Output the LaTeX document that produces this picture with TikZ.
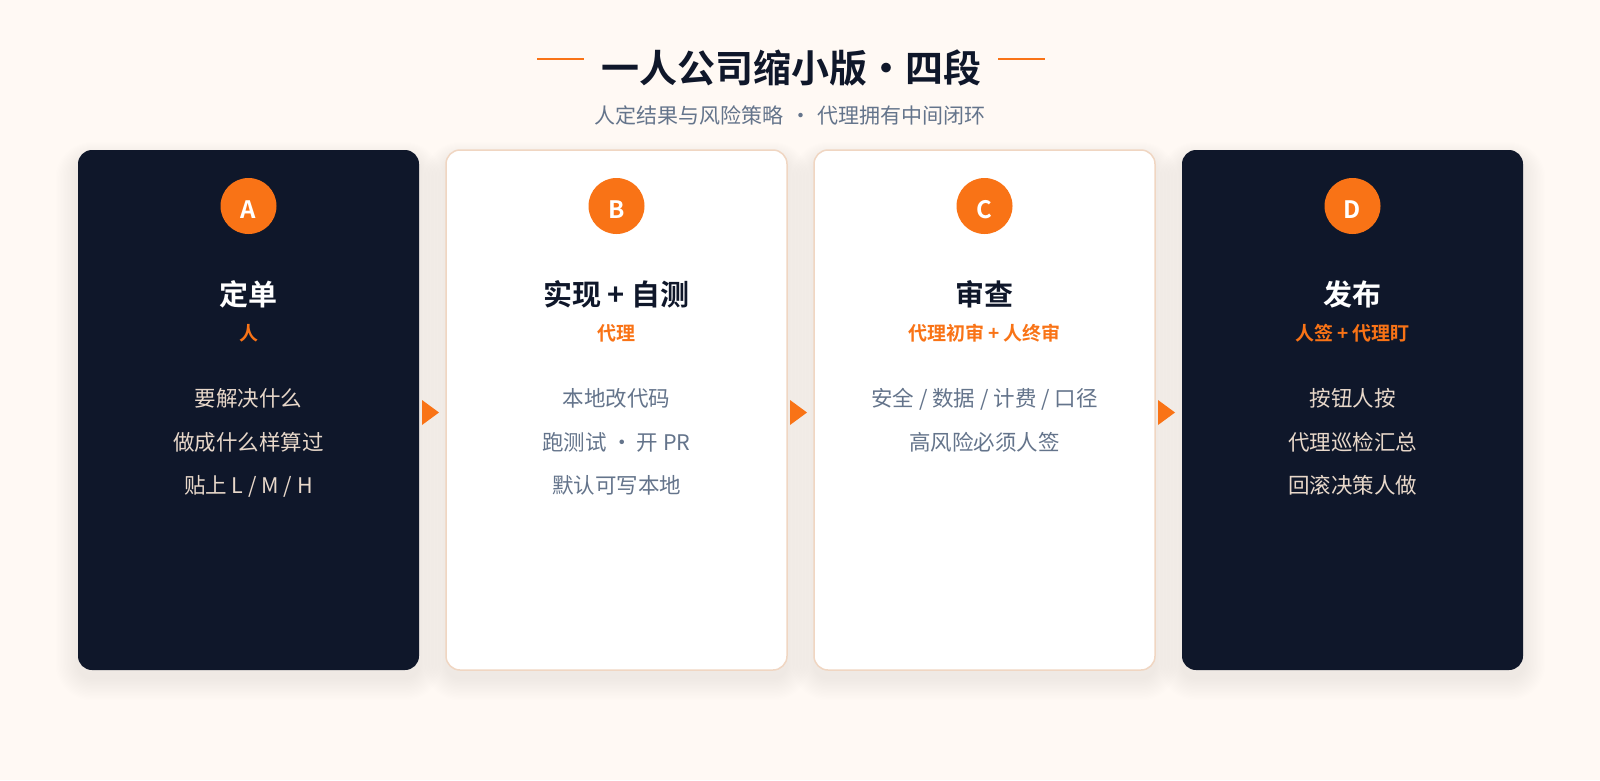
\documentclass[tikz,border=0pt]{standalone}
\usepackage{fontspec}
\setmainfont{Noto Sans CJK SC}
\newfontfamily\cjkbold{Noto Sans CJK SC Bold}
\definecolor{bg}{HTML}{FFF9F4}
\definecolor{navy}{HTML}{0F172A}
\definecolor{orng}{HTML}{F97316}
\definecolor{slate}{HTML}{64748B}
\definecolor{beige}{HTML}{E8D8CA}
\definecolor{bord}{HTML}{F0D6C2}
\definecolor{shad}{HTML}{5A3A20}
\tikzset{
  x=1pt,y=-1pt,
  darkcard/.style={fill=navy,draw=none,rounded corners=14pt},
  lightcard/.style={fill=white,draw=bord,line width=1.5pt,rounded corners=14pt},
  badge/.style={circle,fill=orng,minimum size=56pt,inner sep=0pt},
  badgetxt/.style={anchor=base,text=white,font=\cjkbold\fontsize{24pt}{24pt}\selectfont,inner sep=0pt},
  ttl/.style={anchor=base,font=\cjkbold\fontsize{29pt}{29pt}\selectfont,inner sep=0pt},
  sub/.style={anchor=base,text=orng,font=\cjkbold\fontsize{19pt}{19pt}\selectfont,inner sep=0pt},
  item/.style={anchor=base,font=\fontsize{21.5pt}{21.5pt}\selectfont,inner sep=0pt},
  tri/.style={fill=orng,draw=none},
}
\begin{document}
\begin{tikzpicture}
\fill[bg] (0,0) rectangle (1600,780);
\useasboundingbox (0,0) rectangle (1600,780);
% title
\node[anchor=base,inner sep=0pt,text=navy,font=\cjkbold\fontsize{38pt}{38pt}\selectfont] (title) at (791,82.5) {一人公司缩小版·四段};
\coordinate (l1a) at (537,59); \coordinate (l1b) at (584,59);
\coordinate (l2a) at (998,59); \coordinate (l2b) at (1045,59);
\draw[orng,line width=2.5pt] (l1a) -- (l1b);
\draw[orng,line width=2.5pt] (l2a) -- (l2b);
\node[anchor=base,inner sep=0pt,text=slate,font=\fontsize{21pt}{21pt}\selectfont] (subtitle) at (790,123) {人定结果与风险策略\hspace{0.3em}·\hspace{0.3em}代理拥有中间闭环};
% cards
\foreach \i/\st in {0/darkcard,1/lightcard,2/lightcard,3/darkcard}{
  \pgfmathsetmacro{\xl}{78+368*\i}
  \pgfmathsetmacro{\xr}{\xl+341}
  \foreach \k in {1,...,16}{
    \fill[shad,opacity=0.0038,rounded corners=14pt+\k*1.4pt] (\xl-\k*1.4,150-\k*1.0+8) rectangle (\xr+\k*1.4,670+\k*1.4+8);
  }
  \path[\st] (\xl,150) rectangle (\xr,670);
}
% arrows
\foreach \i in {0,1,2}{
  \pgfmathsetmacro{\xa}{422+368*\i}
  \fill[tri] (\xa,400) -- (\xa+17,412.5) -- (\xa,425) -- cycle;
}
% card A
\node[badge] (ca) at (248.5,206) {};
\node[badgetxt] (cat) at (248.5,218) {A};
\node[ttl,text=white] (ta) at (248.5,305.5) {定单};
\node[sub] (sa) at (248.5,340.5) {人};
\node[item,text=beige] (ia1) at (248.5,406) {要解决什么};
\node[item,text=beige] (ia2) at (248.5,450) {做成什么样算过};
\node[item,text=beige] (ia3) at (248.5,493) {贴上 L / M / H};
% card B
\node[badge] (cb) at (616.5,206) {};
\node[badgetxt] (cbt) at (616.5,218) {B};
\node[ttl,text=navy] (tb) at (616.5,305.5) {实现 + 自测};
\node[sub] (sb) at (616.5,340.5) {代理};
\node[item,text=slate] (ib1) at (616.5,406) {本地改代码};
\node[item,text=slate] (ib2) at (616.5,450) {跑测试\hspace{0.2em}·\hspace{0.2em}开 PR};
\node[item,text=slate] (ib3) at (616.5,493) {默认可写本地};
% card C
\node[badge] (cc) at (984.5,206) {};
\node[badgetxt] (cct) at (984.5,218) {C};
\node[ttl,text=navy] (tc) at (984.5,305.5) {审查};
\node[sub] (sc) at (984.5,340.5) {代理初审 + 人终审};
\node[item,text=slate] (ic1) at (984.5,406) {安全 / 数据 / 计费 / 口径};
\node[item,text=slate] (ic2) at (984.5,450) {高风险必须人签};
% card D
\node[badge] (cd) at (1352.5,206) {};
\node[badgetxt] (cdt) at (1352.5,218) {D};
\node[ttl,text=white] (td) at (1352.5,305.5) {发布};
\node[sub] (sd) at (1352.5,340.5) {人签 + 代理盯};
\node[item,text=beige] (id1) at (1352.5,406) {按钮人按};
\node[item,text=beige] (id2) at (1352.5,450) {代理巡检汇总};
\node[item,text=beige] (id3) at (1352.5,493) {回滚决策人做};
\end{tikzpicture}
\end{document}
